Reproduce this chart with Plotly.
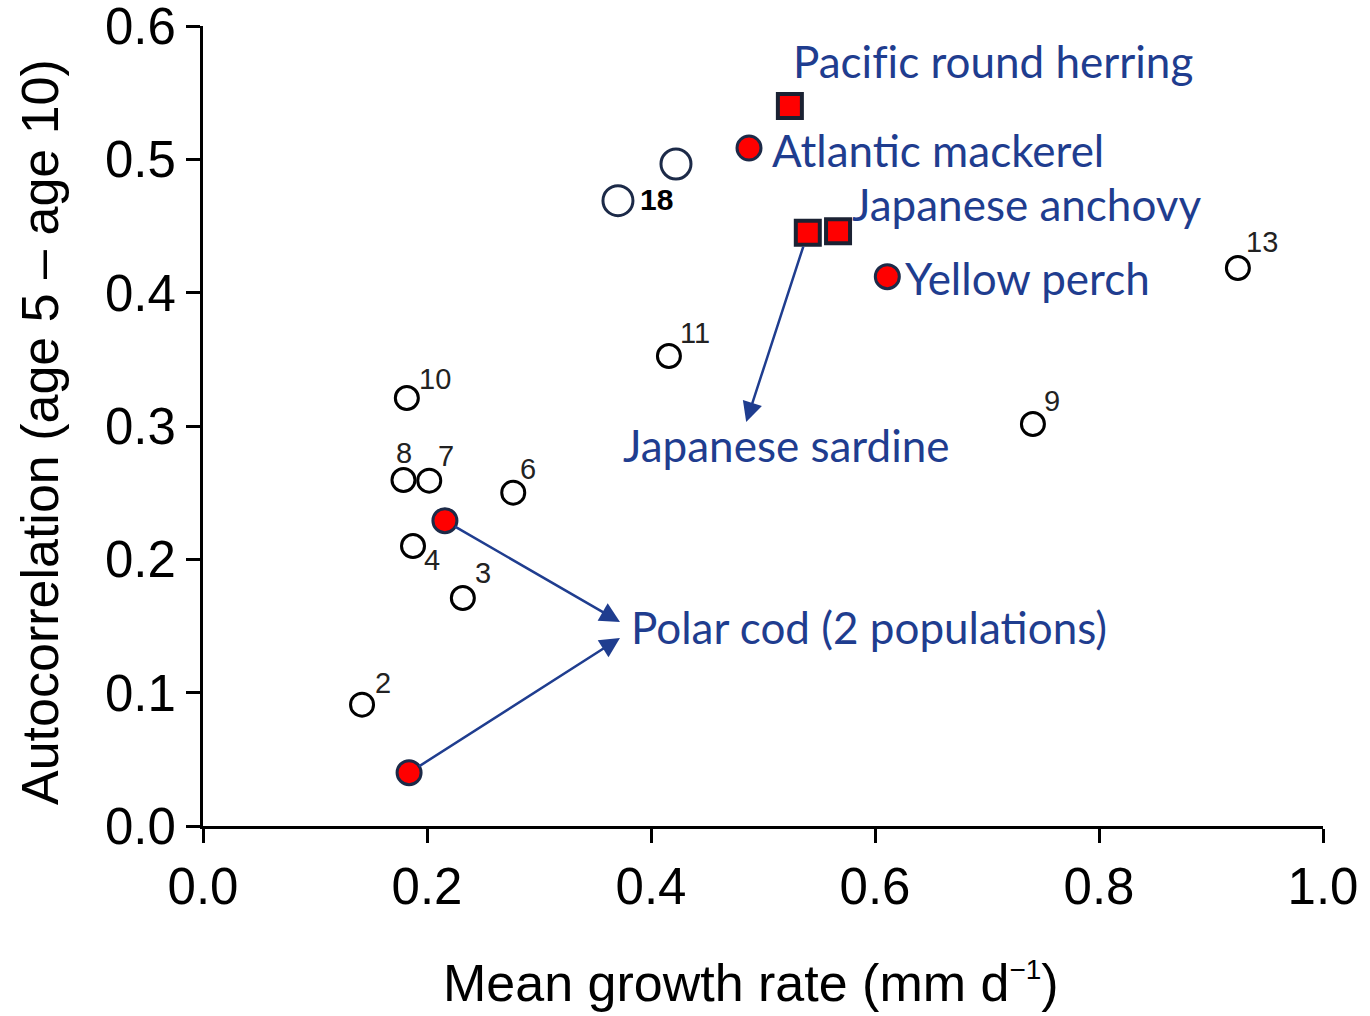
import plotly.graph_objects as go

# ---- data ----
open_labels = ["2", "3", "4", "8", "7", "10", "6", "11", "9", "13"]
open_x = [0.142, 0.232, 0.1875, 0.179, 0.202, 0.182, 0.277, 0.416, 0.741, 0.924]
open_y = [0.091, 0.171, 0.210, 0.2595, 0.259, 0.321, 0.250, 0.3525, 0.3015, 0.4185]

navy_labels = ["18", ""]
navy_x = [0.3705, 0.4223]
navy_y = [0.469, 0.4965]

redc_names = ["Polar cod A", "Polar cod B", "Atlantic mackerel", "Yellow perch"]
redc_x = [0.216, 0.184, 0.4875, 0.611]
redc_y = [0.229, 0.040, 0.5085, 0.412]

reds_names = ["Pacific round herring", "Japanese anchovy A", "Japanese anchovy B"]
reds_x = [0.524, 0.540, 0.567]
reds_y = [0.540, 0.445, 0.446]

x_ticks = [0.0, 0.2, 0.4, 0.6, 0.8, 1.0]
y_ticks = [0.0, 0.1, 0.2, 0.3, 0.4, 0.5, 0.6]

species_text = ["Pacif\u200cic round herring", "Atlantic mackerel", "Japanese anchovy",
                "Yellow perch", "Japanese sardine", "Polar cod (2 populations)"]
species_x = [0.5250, 0.5062, 0.5777, 0.6250, 0.3732, 0.3804]
species_y = [0.5735, 0.5070, 0.4665, 0.4110, 0.2858, 0.1493]

# ---- styles ----
NAVY = "#1f3d8f"
DARK = "#1c2a48"
num_offsets = {"10": (28, 19), "8": (1, 27), "7": (17, 25), "6": (15, 24), "4": (19, -14),
               "3": (20, 25), "2": (21, 22), "11": (26, 23), "9": (19, 23), "13": (24, 26)}

fig = go.Figure()
fig.add_trace(go.Scatter(x=open_x, y=open_y, mode="markers",
                         marker=dict(symbol="circle-open", size=23, color="black",
                                     line=dict(width=3, color="black")),
                         hoverinfo="skip"))
fig.add_trace(go.Scatter(x=navy_x, y=navy_y, mode="markers",
                         marker=dict(symbol="circle-open", size=30, color=DARK,
                                     line=dict(width=3, color=DARK)),
                         hoverinfo="skip"))
fig.add_trace(go.Scatter(x=redc_x, y=redc_y, mode="markers",
                         marker=dict(symbol="circle", size=24, color="#ff0000",
                                     line=dict(width=3, color=DARK)),
                         hoverinfo="skip"))
fig.add_trace(go.Scatter(x=reds_x, y=reds_y, mode="markers",
                         marker=dict(symbol="square", size=24, color="#ff0000",
                                     line=dict(width=4, color="#1b2233")),
                         hoverinfo="skip"))

# number labels
for lab, xv, yv in zip(open_labels, open_x, open_y):
    dx, dy = num_offsets[lab]
    fig.add_annotation(x=xv, y=yv, xref="x", yref="y", text=lab, showarrow=False,
                       xanchor="center", yanchor="middle", xshift=dx, yshift=dy,
                       font=dict(family="Liberation Sans, Arial", size=29, color="#222222"))
# bold 18
fig.add_annotation(x=navy_x[0], y=navy_y[0], xref="x", yref="y", text="<b>18</b>",
                   showarrow=False, xanchor="left", yanchor="middle", xshift=20, yshift=1,
                   font=dict(family="Liberation Sans, Arial", size=30, color="black"))

# species labels
for t, xv, yv in zip(species_text, species_x, species_y):
    fig.add_annotation(x=xv, y=yv, xref="x", yref="y", text=t, showarrow=False,
                       xanchor="left", yanchor="middle",
                       font=dict(family="Lato, Open Sans", size=44, color=NAVY))

# arrows
arrow_style = dict(showarrow=True, arrowhead=2, arrowsize=1.6, arrowwidth=2.5,
                   arrowcolor=NAVY, axref="x", ayref="y", xref="x", yref="y", text="")
fig.add_annotation(x=0.485, y=0.303, ax=reds_x[1], ay=reds_y[1], startstandoff=13, **arrow_style)
fig.add_annotation(x=0.3723, y=0.153, ax=redc_x[0], ay=redc_y[0], startstandoff=10, **arrow_style)
fig.add_annotation(x=0.3723, y=0.141, ax=redc_x[1], ay=redc_y[1], startstandoff=10, **arrow_style)

# axis titles
fig.add_annotation(xref="paper", yref="paper", x=0, y=0.5, xshift=-163, yshift=-6,
                   text="Autocorrelation (age 5 \u2013 age 10)", textangle=-90, showarrow=False,
                   xanchor="center", yanchor="middle",
                   font=dict(family="Liberation Sans, Arial", size=52, color="black"))
fig.add_annotation(xref="paper", yref="paper", x=0.489, y=0, yshift=-157,
                   text="Mean growth rate (mm d<sup><span style=\"font-size:28px\">\u22121</span></sup>)",
                   showarrow=False, xanchor="center", yanchor="middle",
                   font=dict(family="Liberation Sans, Arial", size=52, color="black"))

axis_common = dict(showline=True, linewidth=3, linecolor="black", ticks="outside",
                   ticklen=14, tickwidth=3, tickcolor="black", showgrid=False,
                   zeroline=False, tickformat=".1f", ticklabeloverflow="allow",
                   automargin=False,
                   tickfont=dict(family="Liberation Sans, Arial", size=51, color="black"))
fig.update_xaxes(range=[0, 1.0], tickvals=x_ticks, **axis_common)
fig.update_yaxes(range=[0, 0.6], tickvals=y_ticks, **axis_common)

fig.update_layout(width=1370, height=1016, showlegend=False,
                  plot_bgcolor="white", paper_bgcolor="white",
                  margin=dict(l=203, r=47, t=26, b=190))
fig.update_traces(cliponaxis=False)
fig.write_html("out.html", config={"displayModeBar": False},
               post_script="document.body.style.margin='0px';document.body.style.overflow='hidden';")
